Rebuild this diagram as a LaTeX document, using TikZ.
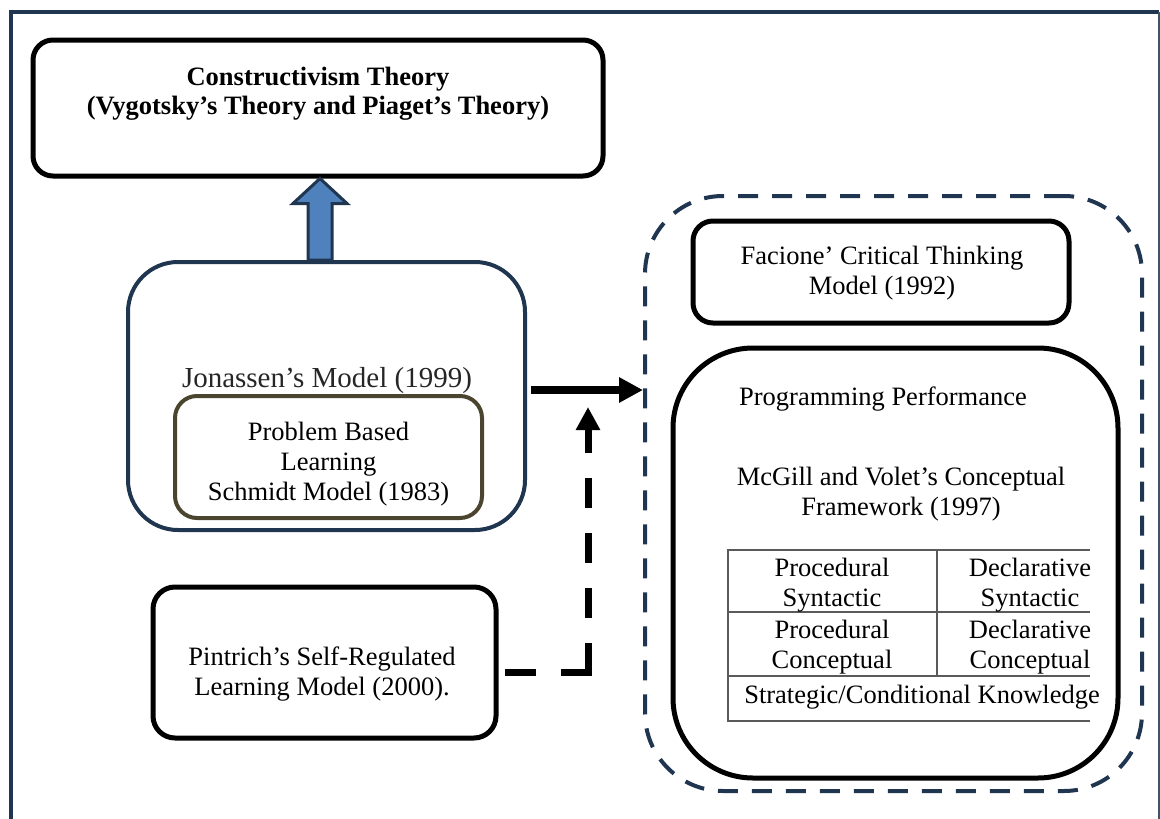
\documentclass[tikz,border=0pt]{standalone}
\usepackage{fontspec}
\setmainfont{Liberation Serif}
\usetikzlibrary{arrows.meta,calc}
\definecolor{dkblue}{HTML}{1F3550}
\definecolor{arrowblue}{HTML}{4F81BD}
\definecolor{olivebrd}{HTML}{4B4530}
\definecolor{tblgray}{HTML}{5A5A5A}
\definecolor{framegray}{HTML}{3F5566}
\begin{document}
\begin{tikzpicture}[x=1pt,y=-1pt,
  box/.style={draw=black, line width=5pt, rounded corners=#1, inner sep=0pt},
  box/.default=20pt,
  txt/.style={align=center, inner sep=0pt, anchor=base, font=\fontsize{26.5pt}{30pt}\selectfont},
  tbl/.style={draw=tblgray, line width=1.2pt},
  blockarrow/.style={draw=dkblue, fill=arrowblue, line width=3pt, line join=miter},
  solidarrow/.style={line width=8pt, -{Triangle[length=24pt,width=24pt]}},
  dashedline/.style={line width=7pt}
]
\useasboundingbox (0,0) rectangle (1160,819);
% outer frame
\draw[dkblue, line width=4pt] (11,819) -- (11,12) -- (1159,12);
\draw[framegray, line width=1.5pt] (1159,12) -- (1159,819);

% boxes
\node[box=20pt, minimum width=570pt, minimum height=136pt] (con) at (318,108) {};
\node[box=50pt, draw=dkblue, line width=4pt, minimum width=397pt, minimum height=268pt] (jon) at (326.5,396) {};
\node[box=22pt, draw=olivebrd, line width=4pt, minimum width=307pt, minimum height=122pt] (pbl) at (328.5,457) {};
\node[box=22pt, minimum width=343pt, minimum height=151pt] (pin) at (324.5,662.5) {};
\node[draw=dkblue, line width=4pt, dash pattern=on 20pt off 14pt, rounded corners=78pt, inner sep=0pt,
      minimum width=497pt, minimum height=595pt] (cont) at (893.5,493.5) {};
\node[box=20pt, minimum width=376pt, minimum height=102pt] (fac) at (881,272) {};
\node[box=80pt, minimum width=445pt, minimum height=430pt] (prog) at (895.5,563) {};

% texts (anchor=base is the baseline of the last line)
\node[txt, font=\bfseries\fontsize{26.5pt}{29pt}\selectfont] (contxt) at (318,114)
  {Constructivism Theory\\(Vygotsky’s Theory and Piaget’s Theory)};
\node[txt, font=\fontsize{29pt}{32pt}\selectfont, text=black!85] (jontxt) at (327,387) {Jonassen’s Model (1999)};
\node[txt] (pbltxt) at (328.5,500) {Problem Based\\Learning\\Schmidt Model (1983)};
\node[txt] (pintxt) at (322,695) {Pintrich’s Self-Regulated\\Learning Model (2000).};
\node[txt] (factxt) at (882,294) {Facione’ Critical Thinking\\Model (1992)};
\node[txt] (progtxt) at (883,405) {Programming Performance};
\node[txt] (mcgtxt) at (901,515) {McGill and Volet’s Conceptual\\Framework (1997)};

% table
\draw[tbl] (1090,550) -- (728,550) -- (728,721) -- (1090,721);
\draw[tbl] (728,612) -- (1090,612);
\draw[tbl] (728,676) -- (1090,676);
\draw[tbl] (937,550) -- (937,676);
\node[txt] (c11) at (832,606) {Procedural\\Syntactic};
\node[txt] (c12) at (1030,606) {Declarative\\Syntactic};
\node[txt] (c21) at (832,668) {Procedural\\Conceptual};
\node[txt] (c22) at (1030,668) {Declarative\\Conceptual};
\node[txt] (c3) at (922,703) {Strategic/Conditional Knowledge};

% block arrow from Jonassen up to Constructivism
\path (con.south) ++(2,0) coordinate (ut);
\path (ut |- jon.north) coordinate (ub);
\draw[blockarrow] (ut) -- ($(ut)+(27,25)$) -- ($(ut)+(12,25)$) -- ($(ub)+(12,0)$)
  -- ($(ub)+(-12,0)$) -- ($(ut)+(-12,25)$) -- ($(ut)+(-27,25)$) -- cycle;

% solid arrow from Jonassen to the dashed container
\coordinate (sstart) at ($(jon.east)+(4,-6)$);
\coordinate (send) at (sstart -| cont.west);
\draw[solidarrow] (sstart) -- (send);

% dashed arrow from Pintrich up to the solid arrow
\coordinate (dstart) at ($(pin.east)+(6,10)$);
\coordinate (dtip) at (588,407);
\coordinate (dcorner) at (dtip |- dstart);
\draw[dashedline, dash pattern=on 31pt off 25pt on 60pt] (dstart) -- ($(dcorner)+(3.5,0)$);
\draw[dashedline, dash pattern=on 30pt off 25pt, -{Triangle[length=23pt,width=23pt]}] (dcorner) -- (dtip);
\end{tikzpicture}
\end{document}
